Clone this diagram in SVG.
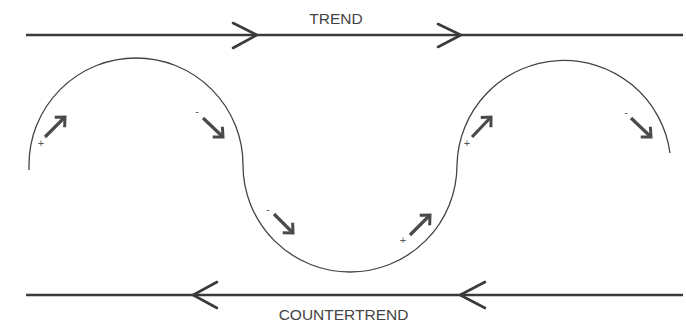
<svg xmlns="http://www.w3.org/2000/svg" width="686" height="323" viewBox="0 0 686 323">
<defs>
<style>
.main{stroke:#3a3a3a;stroke-width:2.6;fill:none}
.chev{stroke:#3a3a3a;stroke-width:2.6;fill:none;stroke-linecap:round;stroke-linejoin:miter}
.curve{stroke:#444;stroke-width:1.3;fill:none}
.small{stroke:#4a4a4a;stroke-width:3.2;fill:none;marker-end:url(#head)}
.lbl{font-family:"Liberation Sans",Arial,sans-serif;font-size:15.5px;fill:#444}
.sign{font-family:"Liberation Sans",Arial,sans-serif;font-size:11px;fill:#555}
</style>
<marker id="head" markerUnits="userSpaceOnUse" markerWidth="20" markerHeight="20" refX="10" refY="10" orient="auto" viewBox="0 0 20 20">
<path d="M2.5,3 L10,10 L2.5,17" fill="none" stroke="#4a4a4a" stroke-width="3"/>
</marker>
</defs>
<rect width="686" height="323" fill="#fff"/>
<g id="trend">
<line class="main" x1="26" y1="35" x2="683" y2="35"/>
<path class="chev" d="M233,23 L257,35 L233,48"/>
<path class="chev" d="M438,24 L461,35 L438,47"/>
<text class="lbl" x="336" y="24" text-anchor="middle">TREND</text>
</g>
<g id="countertrend">
<line class="main" x1="26" y1="295" x2="683" y2="295"/>
<path class="chev" d="M217,282 L193,295 L217,308"/>
<path class="chev" d="M485,282 L460,295 L485,308"/>
<text class="lbl" x="343.5" y="320" text-anchor="middle">COUNTERTREND</text>
</g>
<g id="wave">
<path class="curve" d="M29,170 L29,165 A107,107 0 0 1 243,165 A107,107 0 0 0 457,165 A107,107 0 0 1 670,153"/>
</g>
<g id="connectors">
<line class="small" x1="45" y1="137" x2="65" y2="117"/>
<line class="small" x1="203" y1="118" x2="223" y2="137"/>
<line class="small" x1="274" y1="214" x2="293" y2="233"/>
<line class="small" x1="410" y1="235" x2="430" y2="215"/>
<line class="small" x1="472" y1="137" x2="491" y2="117"/>
<line class="small" x1="631" y1="118" x2="651" y2="137"/>
</g>
<g id="signs">
<text class="sign" x="41" y="147" text-anchor="middle">+</text>
<text class="sign" x="197" y="115" text-anchor="middle">-</text>
<text class="sign" x="268" y="213" text-anchor="middle">-</text>
<text class="sign" x="403" y="244" text-anchor="middle">+</text>
<text class="sign" x="467" y="147" text-anchor="middle">+</text>
<text class="sign" x="626" y="116" text-anchor="middle">-</text>
</g>
</svg>
